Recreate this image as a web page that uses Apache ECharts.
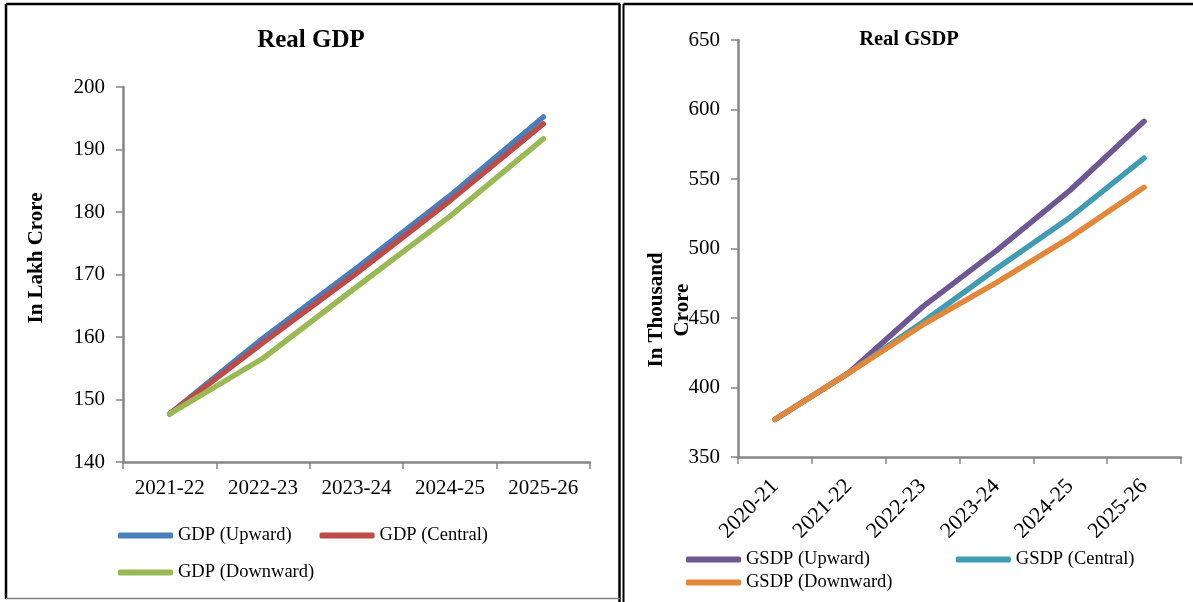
<!DOCTYPE html>
<html>
<head>
<meta charset="utf-8">
<script src="https://cdn.jsdelivr.net/npm/echarts@6/dist/echarts.min.js"></script>
<style>
  html, body { margin: 0; padding: 0; background: #ffffff; }
  #chart { width: 1193px; height: 602px; }
</style>
</head>
<body>
<div id="chart"></div>
<script>
// Real GDP (India), in lakh crore
const gdpYears = ['2021-22', '2022-23', '2023-24', '2024-25', '2025-26'];
const gdpUpward = [147.7, 159.8, 171.0, 182.6, 195.2];
const gdpCentral = [147.7, 159.1, 170.2, 181.8, 194.1];
const gdpDownward = [147.7, 156.6, 168.0, 179.3, 191.7];

// Real GSDP, in thousand crore
const gsdpYears = ['2020-21', '2021-22', '2022-23', '2023-24', '2024-25', '2025-26'];
const gsdpUpward = [377, 410.5, 458, 498.5, 542, 591.5];
const gsdpCentral = [377, 410.5, 447, 485.5, 522.5, 565];
const gsdpDownward = [377, 410.5, 445, 475.5, 508, 544];

const SERIF = '"Liberation Serif", "Times New Roman", "DejaVu Serif", serif';
const AXIS_GREY = '#868686';

const chart = echarts.init(document.getElementById('chart'), null, { renderer: 'canvas' });

function valueAxis(gridIndex, min, max, interval, margin) {
  return {
    type: 'value', gridIndex, min, max, interval,
    splitLine: { show: false },
    axisLine: { show: true, lineStyle: { color: AXIS_GREY, width: 2.5 } },
    axisTick: { show: true, length: 7, lineStyle: { color: AXIS_GREY, width: 1.5 } },
    axisLabel: { color: '#000', fontFamily: SERIF, fontSize: 21, margin }
  };
}

function categoryAxis(gridIndex, data, labelOpts) {
  return {
    type: 'category', gridIndex, data, boundaryGap: true,
    axisLine: { show: true, lineStyle: { color: AXIS_GREY, width: 2.5 } },
    axisTick: { show: true, length: 7, alignWithLabel: false, lineStyle: { color: AXIS_GREY, width: 1.5 } },
    axisLabel: Object.assign({ color: '#000', fontFamily: SERIF, fontSize: 21, interval: 0 }, labelOpts)
  };
}

function lineSeries(name, data, color, axisIndex) {
  return {
    name, type: 'line', data,
    xAxisIndex: axisIndex, yAxisIndex: axisIndex,
    symbol: 'none', smooth: false,
    lineStyle: { color, width: 5.5, cap: 'round', join: 'round' },
    itemStyle: { color },
    emphasis: { disabled: true },
    animation: false
  };
}

function legendBlock(names, left, top, gap) {
  return {
    data: names, left, top, orient: 'horizontal', itemGap: gap, padding: 0,
    icon: 'roundRect', itemWidth: 55, itemHeight: 6,
    textStyle: { fontFamily: SERIF, fontSize: 18.5, color: '#000' },
    selectedMode: false
  };
}

const option = {
  backgroundColor: '#ffffff',
  animation: false,
  title: [
    { text: 'Real GDP', left: 311, top: 28, textAlign: 'center', padding: 0,
      textStyle: { fontFamily: SERIF, fontSize: 25, fontWeight: 'bold', color: '#000' } },
    { text: 'Real GSDP', left: 909, top: 29, textAlign: 'center', padding: 0,
      textStyle: { fontFamily: SERIF, fontSize: 20.5, fontWeight: 'bold', color: '#000' } }
  ],
  grid: [
    { left: 123, top: 87, width: 467, height: 375 },
    { left: 738, top: 40, width: 443, height: 417 }
  ],
  xAxis: [
    categoryAxis(0, gdpYears, { margin: 16 }),
    categoryAxis(1, gsdpYears, { rotate: 45, margin: 26, fontSize: 22 })
  ],
  yAxis: [
    valueAxis(0, 140, 200, 10, 18),
    valueAxis(1, 350, 650, 50, 18)
  ],
  legend: [
    legendBlock(['GDP (Upward)', 'GDP (Central)'], 118, 526, 28),
    legendBlock(['GDP (Downward)'], 118, 563, 28),
    legendBlock(['GSDP (Upward)', 'GSDP (Central)'], 686, 550, 86),
    legendBlock(['GSDP (Downward)'], 686, 573, 86)
  ],
  series: [
    lineSeries('GDP (Upward)', gdpUpward, '#4A7EBB', 0),
    lineSeries('GDP (Central)', gdpCentral, '#BE4B48', 0),
    lineSeries('GDP (Downward)', gdpDownward, '#98B954', 0),
    lineSeries('GSDP (Upward)', gsdpUpward, '#6E5793', 1),
    lineSeries('GSDP (Central)', gsdpCentral, '#409CB3', 1),
    lineSeries('GSDP (Downward)', gsdpDownward, '#E3873A', 1)
  ],
  graphic: [
    // panel frames
    { type: 'line', shape: { x1: 6, y1: 4, x2: 620, y2: 4 }, style: { stroke: '#000', lineWidth: 2.5 } },
    { type: 'line', shape: { x1: 6, y1: 4, x2: 6, y2: 599 }, style: { stroke: '#000', lineWidth: 2.5 } },
    { type: 'line', shape: { x1: 619.5, y1: 4, x2: 619.5, y2: 602 }, style: { stroke: '#000', lineWidth: 2.5 } },
    { type: 'line', shape: { x1: 6, y1: 598.5, x2: 620, y2: 598.5 }, style: { stroke: '#808080', lineWidth: 1.5 } },
    { type: 'line', shape: { x1: 623.5, y1: 4, x2: 623.5, y2: 602 }, style: { stroke: '#000', lineWidth: 2 } },
    { type: 'line', shape: { x1: 623.5, y1: 4, x2: 1193, y2: 4 }, style: { stroke: '#000', lineWidth: 2.5 } },
    // axis titles
    { type: 'text', x: 37, y: 258, rotation: Math.PI / 2,
      style: { text: 'In Lakh Crore', fontFamily: SERIF, fontSize: 21, fontWeight: 'bold',
               fill: '#000', align: 'center', verticalAlign: 'middle' } },
    { type: 'text', x: 670, y: 310, rotation: Math.PI / 2,
      style: { text: 'In Thousand\nCrore', fontFamily: SERIF, fontSize: 21, fontWeight: 'bold',
               lineHeight: 26, fill: '#000', align: 'center', verticalAlign: 'middle' } }
  ]
};

chart.setOption(option);
</script>
</body>
</html>
